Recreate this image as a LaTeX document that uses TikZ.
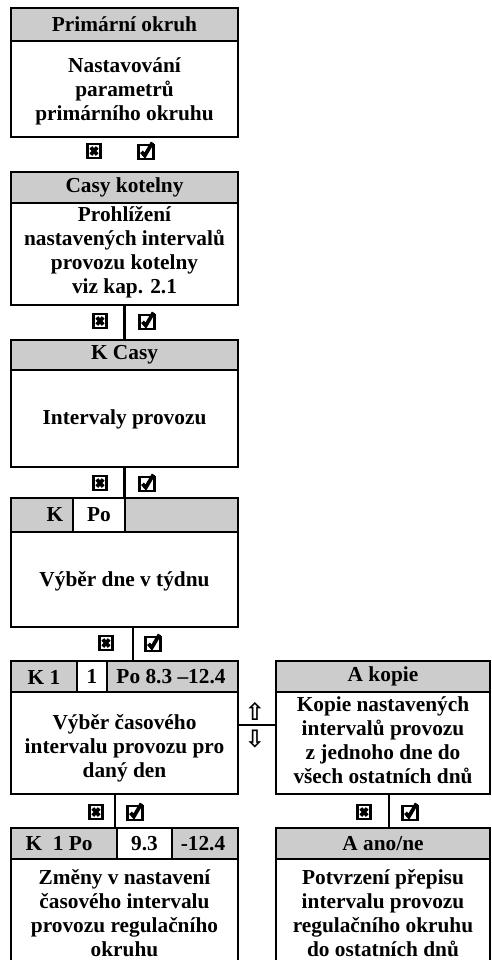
\documentclass[tikz,border=0pt]{standalone}
\usepackage{fontspec}
\setmainfont{Liberation Serif}
\newfontfamily\symfont{DejaVu Sans}
\usetikzlibrary{fit}
\definecolor{hdrgray}{RGB}{204,204,204}

\begin{document}
\begin{tikzpicture}[x=0.75pt,y=-0.75pt,
  font=\fontsize{16}{18}\selectfont\bfseries,
  frame/.style={draw, line width=1.6pt, inner sep=0pt},
  head/.style={fill=hdrgray, draw, line width=1.6pt, inner sep=0pt},
  whitecell/.style={fill=white, draw, line width=1.6pt, inner sep=0pt},
  lbl/.style={align=center, inner sep=0pt},
  link/.style={line width=1.6pt},
  arrowsym/.style={inner sep=0pt, font=\symfont\bfseries\fontsize{18}{18}\selectfont},
  pics/xbox/.style={code={
    \draw[line width=2pt] (-6.5,-7) rectangle (6.5,7);
    \draw[line width=2.8pt] (-3.2,-3.6) -- (3.2,3.6) (-3.2,3.6) -- (3.2,-3.6);}},
  pics/checkbox/.style={code={
    \draw[line width=2pt] (-7.5,-6) rectangle (7.5,8);
    \draw[line width=2.8pt, line join=miter] (-4.5,0.8) -- (-1.2,4.6) -- (6.5,-8.5);}}
]
\useasboundingbox (0,0) rectangle (492,960);

% ---------- left column ----------
% Primární okruh
\node[head, fit={(11,8) (238,41)}] (h1) {};
\node[frame, fit={(11,8) (238,137)}] (b1) {};
\node[lbl] (h1t) at (h1.center) {Primární okruh};
\node[lbl] (b1t) at (124.5,91) {Nastavování\\parametrů\\primárního okruhu};
\pic at (94,151) {xbox};
\pic at (146,151) {checkbox};

% Casy kotelny
\node[head, fit={(11,172) (238,203)}] (h2) {};
\node[frame, fit={(11,172) (238,305)}] (b2) {};
\node[lbl] (h2t) at (h2.center) {Casy kotelny};
\node[lbl] (b2t) at (124.5,252) {Prohlížení\\nastavených intervalů\\provozu kotelny\\viz kap. 2.1};
\pic at (100,321) {xbox};
\pic at (147,321) {checkbox};

% K Casy
\node[head, fit={(11,340) (238,370)}] (h3) {};
\node[frame, fit={(11,340) (238,467)}] (b3) {};
\node[lbl] (h3t) at (h3.center) {K Casy};
\node[lbl] (b3t) at (124.5,419) {Intervaly provozu};
\pic at (100,483) {xbox};
\pic at (147,483) {checkbox};
\draw[link] (b2.south) -- (b3.north);

% K Po
\node[head, fit={(11,498) (238,532)}] (h4) {};
\node[whitecell, fit={(73,498) (125,532)}] (h4c) {};
\node[frame, fit={(11,498) (238,627)}] (b4) {};
\node[lbl] (h4a) at (55,515) {K};
\node[lbl] (h4b) at (h4c.center) {Po};
\node[lbl] (b4t) at (124.5,581) {Výběr dne v týdnu};
\pic at (106,643) {xbox};
\pic at (153,643) {checkbox};
\draw[link] (b3.south) -- (b4.north);

% K 1
\node[head, fit={(11,661) (238,692)}] (h5) {};
\node[whitecell, fit={(77,661) (107,692)}] (h5c) {};
\node[frame, fit={(11,661) (238,794)}] (b5) {};
\node[lbl] (h5a) at (44,677) {K 1};
\node[lbl] (h5b) at (h5c.center) {1};
\node[lbl] (h5d) at (171,677) {Po 8.3 –12.4};
\node[lbl] (b5t) at (124.5,748) {Výběr časového\\intervalu provozu pro\\daný den};
\coordinate (c45) at (133,0);
\draw[link] (b4.south -| c45) -- (b5.north -| c45);
\pic at (96,812) {xbox};
\pic at (135,812) {checkbox};

% K 1 Po
\node[head, fit={(11,828) (238,962)}] (h6) {};
\node[fill=white, inner sep=0pt, fit={(11,859) (238,962)}] (b6bg) {};
\node[whitecell, fit={(117,828) (172,859)}] (h6c) {};
\draw[line width=1.6pt] (11,962) -- (11,828) -- (238,828) -- (238,962);
\draw[line width=1.6pt] (11,859) -- (238,859);
\node[frame, draw=none, fit={(11,828) (238,962)}] (b6) {};
\node[lbl] (h6a) at (59,844) {K\ \ 1 Po};
\node[lbl] (h6b) at (h6c.center) {9.3};
\node[lbl] (h6d) at (203,844) {-12.4};
\node[lbl] (b6t) at (124.5,913) {Změny v nastavení\\časového intervalu\\provozu regulačního\\okruhu};
\coordinate (c56) at (115,0);
\draw[link] (b5.south -| c56) -- (b6.north -| c56);

% ---------- right column ----------
% A kopie
\node[head, fit={(276,661) (490,692)}] (h7) {};
\node[frame, fit={(276,661) (490,794)}] (b7) {};
\node[lbl] (h7t) at (h7.center) {A kopie};
\node[lbl] (b7t) at (383,740) {Kopie nastavených\\intervalů provozu\\z jednoho dne do\\všech ostatních dnů};
\coordinate (c57) at (0,725);
\draw[link] (b5.east |- c57) -- (b7.west |- c57);
\node[arrowsym] (up) at (255,711) {⇧};
\node[arrowsym] (down) at (255,739) {⇩};
\pic at (364,812) {xbox};
\pic at (410,812) {checkbox};

% A ano/ne
\node[head, fit={(276,828) (490,962)}] (h8) {};
\node[fill=white, inner sep=0pt, fit={(276,859) (490,962)}] (b8bg) {};
\draw[line width=1.6pt] (276,962) -- (276,828) -- (490,828) -- (490,962);
\draw[line width=1.6pt] (276,859) -- (490,859);
\node[frame, draw=none, fit={(276,828) (490,962)}] (b8) {};
\node[lbl] (h8t) at (383,844) {A ano/ne};
\node[lbl] (b8t) at (383,913) {Potvrzení přepisu\\intervalu provozu\\regulačního okruhu\\do ostatních dnů};
\coordinate (c78) at (389,0);
\draw[link] (b7.south -| c78) -- (b8.north -| c78);
\end{tikzpicture}
\end{document}
